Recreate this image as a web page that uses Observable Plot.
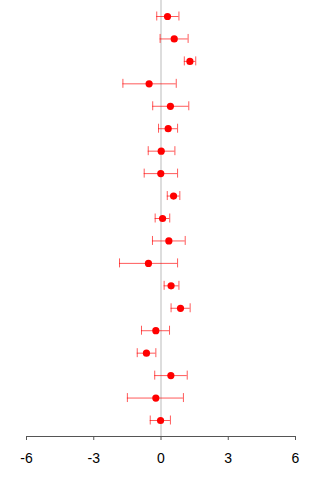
<!DOCTYPE html>
<html>
<head>
<meta charset="utf-8">
<script src="https://cdn.jsdelivr.net/npm/d3@7"></script>
<script src="https://cdn.jsdelivr.net/npm/@observablehq/plot@0.6"></script>
<style>
  html, body { margin: 0; padding: 0; background: #fff; }
  #chart svg { display: block; }
</style>
</head>
<body>
<div id="chart"></div>
<script>
// Study rows, top to bottom
const rows = [1, 2, 3, 4, 5, 6, 7, 8, 9, 10, 11, 12, 13, 14, 15, 16, 17, 18, 19];
// Point estimates
const estimates = [0.29, 0.59, 1.29, -0.53, 0.42, 0.32, 0.01, -0.01, 0.56, 0.07, 0.35, -0.56, 0.45, 0.87, -0.23, -0.65, 0.44, -0.23, -0.02];
// Lower and upper interval bounds
const lower = [-0.19, -0.04, 1.04, -1.70, -0.37, -0.11, -0.57, -0.75, 0.28, -0.26, -0.38, -1.85, 0.14, 0.45, -0.87, -1.06, -0.28, -1.50, -0.48];
const upper = [0.80, 1.21, 1.55, 0.68, 1.24, 0.74, 0.62, 0.74, 0.84, 0.39, 1.08, 0.74, 0.80, 1.30, 0.38, -0.23, 1.17, 1.00, 0.42];
// Axis ticks
const xTicks = [-6, -3, 0, 3, 6];

const data = rows.map((r, i) => ({row: r, est: estimates[i], lo: lower[i], hi: upper[i]}));

const yMin = 0.287, yMax = 19.713;
const capHalf = 0.2;

const chart = Plot.plot({
  width: 320,
  height: 480,
  marginLeft: 26,
  marginRight: 25,
  marginTop: 0,
  marginBottom: 44,
  style: {fontFamily: "'Liberation Sans', Arial, sans-serif", fontSize: "14px", color: "#000", background: "#fff"},
  x: {domain: [-6, 6]},
  y: {domain: [yMin, yMax], reverse: true, axis: null},
  marks: [
    // reference line at zero
    Plot.ruleX([0], {y1: yMin, y2: yMax, stroke: "#dddddd", strokeWidth: 2}),
    // interval lines
    Plot.ruleY(data, {y: "row", x1: "lo", x2: "hi", stroke: "red", strokeOpacity: 0.65, strokeWidth: 1}),
    // interval caps
    Plot.ruleX(data, {x: "lo", y1: d => d.row - capHalf, y2: d => d.row + capHalf, stroke: "red", strokeOpacity: 0.65}),
    Plot.ruleX(data, {x: "hi", y1: d => d.row - capHalf, y2: d => d.row + capHalf, stroke: "red", strokeOpacity: 0.65}),
    // point estimates
    Plot.dot(data, {x: "est", y: "row", r: 3.6, fill: "red", stroke: "none"}),
    // axis baseline
    Plot.ruleY([yMax], {x1: -6, x2: 6, stroke: "#555", strokeWidth: 1}),
    Plot.axisX({ticks: xTicks, tickFormat: d => String(d), tickSize: 4, tickPadding: 13, stroke: "#555", fontSize: 14, fill: "#000", label: null})
  ]
});

document.getElementById("chart").appendChild(chart);
</script>
</body>
</html>
